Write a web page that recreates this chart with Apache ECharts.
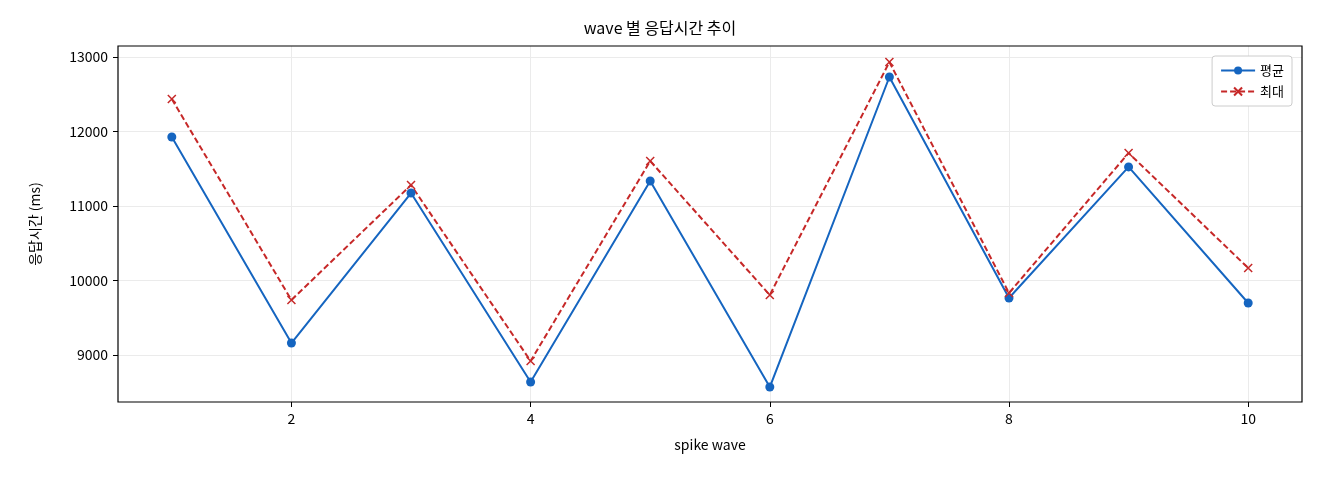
<!DOCTYPE html><html><head><meta charset="utf-8"><script src="https://cdn.jsdelivr.net/npm/echarts@6/dist/echarts.min.js"></script></head><body style="margin:0"><div id="c" style="width:1320px;height:480px"></div><script>
const waves=[1,2,3,4,5,6,7,8,9,10];
const avgVals=[11926,9161,11174,8638,11336,8570,12732,9765,11525,9698];
const maxVals=[12436,9738,11282,8919,11604,9805,12933,9832,11711,10168];
const xTicks=[2,4,6,8,10];
const yTicks=[9000,10000,11000,12000,13000];
const F='"Noto Sans CJK KR", "DejaVu Sans", sans-serif';
const ch=echarts.init(document.getElementById('c'));
ch.setOption({
 animation:false,
 title:{text:'wave 별 응답시간 추이',left:'center',top:15,textStyle:{fontFamily:F,fontSize:16,fontWeight:'normal',color:'#000'}},
 grid:{left:118,right:18,top:46,bottom:78,show:true,borderColor:'#000',borderWidth:1.2,z:5},
 legend:{right:28,top:56,orient:'vertical',itemGap:8,itemWidth:34,itemHeight:10,backgroundColor:'#fff',borderColor:'#ccc',borderWidth:1,borderRadius:3,padding:[8,8],textStyle:{fontFamily:F,fontSize:13,color:'#000'},data:['평균','최대']},
 xAxis:{type:'value',min:0.55,max:10.45,name:'spike wave',nameLocation:'middle',nameGap:36,nameTextStyle:{fontFamily:F,fontSize:14,color:'#000'},
  axisLine:{show:false},axisTick:{show:true,customValues:xTicks,length:5,lineStyle:{color:'#000'}},
  axisLabel:{customValues:xTicks,fontFamily:F,fontSize:14,color:'#000',margin:10},
  splitLine:{show:true,lineStyle:{color:'#ebebeb'}}},
 yAxis:{type:'value',min:8369,max:13148,name:'응답시간 (ms)',nameLocation:'middle',nameGap:76,nameTextStyle:{fontFamily:F,fontSize:14,color:'#000'},
  axisLine:{show:false},axisTick:{show:true,customValues:yTicks,length:5,lineStyle:{color:'#000'}},
  axisLabel:{customValues:yTicks,formatter:v=>String(v),fontFamily:F,fontSize:14,color:'#000',margin:10},
  splitLine:{show:true,lineStyle:{color:'#ebebeb'}}},
 series:[
  {name:'평균',type:'line',data:waves.map((w,i)=>[w,avgVals[i]]),symbol:'circle',symbolSize:9,itemStyle:{color:'#1565c0'},lineStyle:{color:'#1565c0',width:2}},
  {name:'최대',type:'line',data:waves.map((w,i)=>[w,maxVals[i]]),symbol:'path://M0,0L10,10M10,0L0,10',symbolSize:8,itemStyle:{color:'none',borderColor:'#c62828',borderWidth:1.5},lineStyle:{color:'#c62828',width:2,type:[6,3]}}
 ]
});
</script></body></html>
